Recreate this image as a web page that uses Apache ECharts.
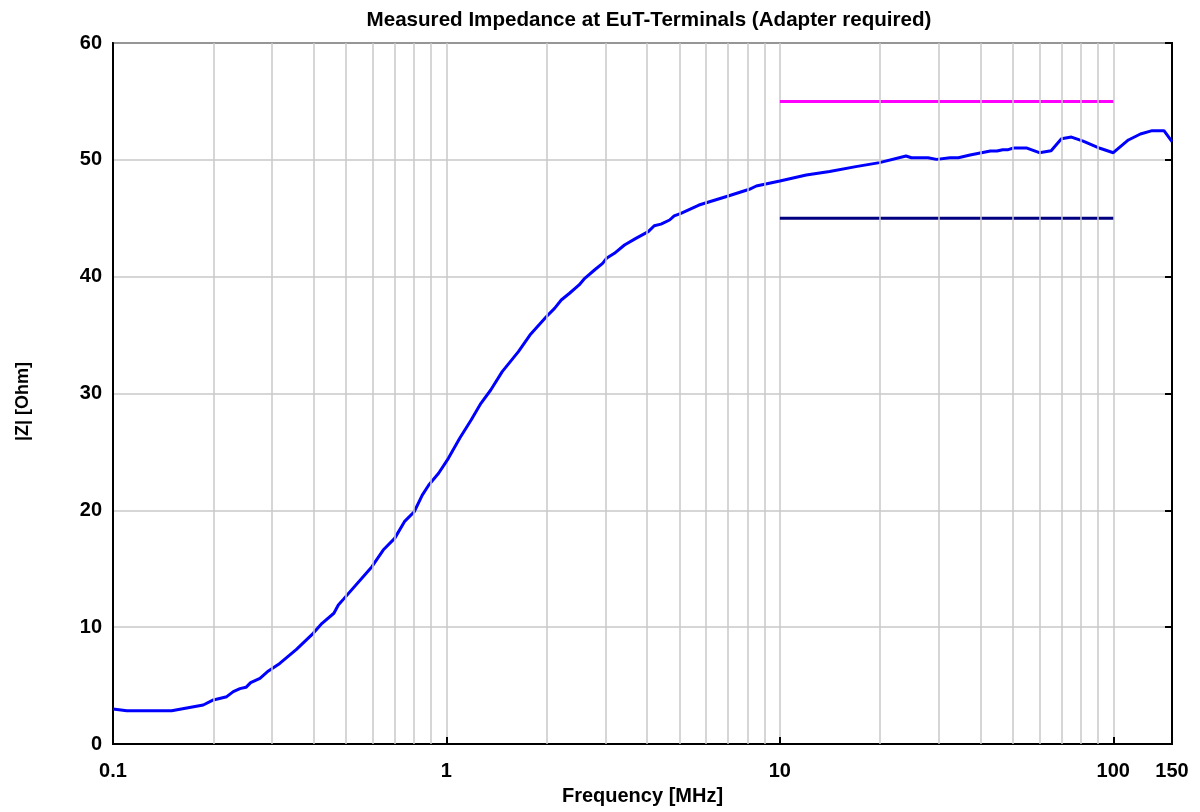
<!DOCTYPE html>
<html>
<head>
<meta charset="utf-8">
<script src="https://cdn.jsdelivr.net/npm/echarts@6/dist/echarts.min.js"></script>
<style>
  html, body { margin: 0; padding: 0; background: #fff; }
  #chart { width: 1200px; height: 812px; }
</style>
</head>
<body>
<div id="chart"></div>
<script>
// measured curve, frequency in MHz
const freq = [0.1, 0.11, 0.15, 0.1865, 0.2, 0.2193, 0.2295, 0.2403, 0.2505, 0.2587, 0.2759, 0.2925,
  0.3163, 0.355, 0.3985, 0.4236, 0.4597, 0.474, 0.4913, 0.5978, 0.6462, 0.6994, 0.7482, 0.8006,
  0.8463, 0.8852, 0.9473, 1.0135, 1.096, 1.186, 1.269, 1.358, 1.47, 1.644, 1.78, 1.993, 2.11, 2.21,
  2.34, 2.5, 2.6, 2.78, 2.94, 3.02, 3.19, 3.42, 3.7, 4.03, 4.2, 4.4, 4.67, 4.82, 5.05, 5.72, 7.0,
  8.1, 8.5, 10, 12.0, 14.1, 16.9, 19.9, 23.9, 24.8, 27.8, 29.5, 32.4, 34.3, 37.2, 42.8, 44.8, 46.6,
  48.4, 50.2, 55.1, 60.0, 65.1, 69.9, 74.9, 81.2, 91.2, 100, 111, 120.6, 130.8, 141.9, 150];
const impedance = [3.0, 2.85, 2.85, 3.34, 3.77, 4.05, 4.48, 4.74, 4.85, 5.25, 5.62, 6.25,
  6.9, 8.1, 9.47, 10.33, 11.19, 11.9, 12.4, 15.18, 16.6, 17.6, 19.03, 19.88,
  21.3, 22.17, 23.17, 24.45, 26.17, 27.73, 29.16, 30.3, 31.87, 33.58, 35.0, 36.57, 37.29, 38.0,
  38.58, 39.29, 39.86, 40.57, 41.14, 41.57, 42.0, 42.71, 43.28, 43.85, 44.36, 44.5, 44.85, 45.2, 45.42, 46.13, 46.9,
  47.48, 47.76, 48.19, 48.7, 49.0, 49.42, 49.76, 50.33, 50.18, 50.18, 50.04, 50.18, 50.18, 50.41, 50.76, 50.76, 50.87,
  50.87, 51.01, 51.01, 50.61, 50.78, 51.81, 51.95, 51.6, 50.99, 50.61, 51.7, 52.21, 52.5, 52.5, 51.55];

// tolerance limits
const limitFreq = [10, 100];
const upperLimit = [55, 55];
const lowerLimit = [45, 45];

// minor log grid lines
const minorGrid = [0.2, 0.3, 0.4, 0.5, 0.6, 0.7, 0.8, 0.9, 2, 3, 4, 5, 6, 7, 8, 9,
  20, 30, 40, 50, 60, 70, 80, 90];

const font = 'Liberation Sans, Arial, sans-serif';
const gridColor = '#c8c8c8';

const chart = echarts.init(document.getElementById('chart'));
chart.setOption({
  animation: false,
  title: {
    text: 'Measured Impedance at EuT-Terminals (Adapter required)',
    left: 644,
    textAlign: 'center',
    top: 5,
    textStyle: { fontFamily: font, fontWeight: 'bold', fontSize: 20.6, color: '#000' }
  },
  grid: {
    left: 113, right: 28, top: 43, bottom: 68,
    show: true, borderColor: '#000', borderWidth: 2
  },
  xAxis: {
    type: 'log',
    logBase: 10,
    min: 0.1,
    max: 150,
    name: 'Frequency [MHz]',
    nameLocation: 'middle',
    nameGap: 42,
    nameTextStyle: { fontFamily: font, fontWeight: 'bold', fontSize: 20, color: '#000' },
    axisLine: { lineStyle: { color: '#000', width: 2 } },
    axisTick: { inside: true, length: 7, lineStyle: { color: '#000', width: 2 } },
    axisLabel: {
      fontFamily: font, fontWeight: 'bold', fontSize: 20, color: '#000', margin: 17,
      showMaxLabel: true
    },
    splitLine: { show: true, lineStyle: { color: gridColor, width: 1.5 } }
  },
  yAxis: [{
    type: 'value',
    min: 0,
    max: 60,
    interval: 10,
    name: '|Z| [Ohm]',
    nameLocation: 'middle',
    nameGap: 81,
    nameTextStyle: { fontFamily: font, fontWeight: 'bold', fontSize: 18, color: '#000', padding: [0, 16, 0, 0] },
    axisLine: { show: true, lineStyle: { color: '#000', width: 2 } },
    axisTick: { show: false },
    axisLabel: { fontFamily: font, fontWeight: 'bold', fontSize: 20, color: '#000', margin: 11 },
    splitLine: { show: true, lineStyle: { color: gridColor, width: 1.5 } }
  }, {
    type: 'value',
    position: 'right',
    min: 0,
    max: 60,
    interval: 10,
    axisLine: { show: true, lineStyle: { color: '#000', width: 2 } },
    axisTick: { show: true, inside: true, length: 7, lineStyle: { color: '#000', width: 2 } },
    axisLabel: { show: false },
    splitLine: { show: false }
  }],
  series: [
    {
      type: 'line',
      silent: true,
      data: [],
      markLine: {
        silent: true,
        symbol: 'none',
        label: { show: false },
        lineStyle: { color: gridColor, width: 1.5, type: 'solid' },
        data: minorGrid.map(v => ({ xAxis: v }))
      }
    },
    {
      name: 'upper',
      type: 'line',
      showSymbol: false,
      data: limitFreq.map((f, i) => [f, upperLimit[i]]),
      lineStyle: { color: '#ff00ff', width: 3 },
      itemStyle: { color: '#ff00ff' },
      z: 3
    },
    {
      name: 'lower',
      type: 'line',
      showSymbol: false,
      data: limitFreq.map((f, i) => [f, lowerLimit[i]]),
      lineStyle: { color: '#000080', width: 3 },
      itemStyle: { color: '#000080' },
      z: 3
    },
    {
      name: '|Z|',
      type: 'line',
      showSymbol: false,
      data: freq.map((f, i) => [f, impedance[i]]),
      lineStyle: { color: '#0000ff', width: 3 },
      itemStyle: { color: '#0000ff' },
      z: 4
    }
  ]
});
</script>
</body>
</html>
